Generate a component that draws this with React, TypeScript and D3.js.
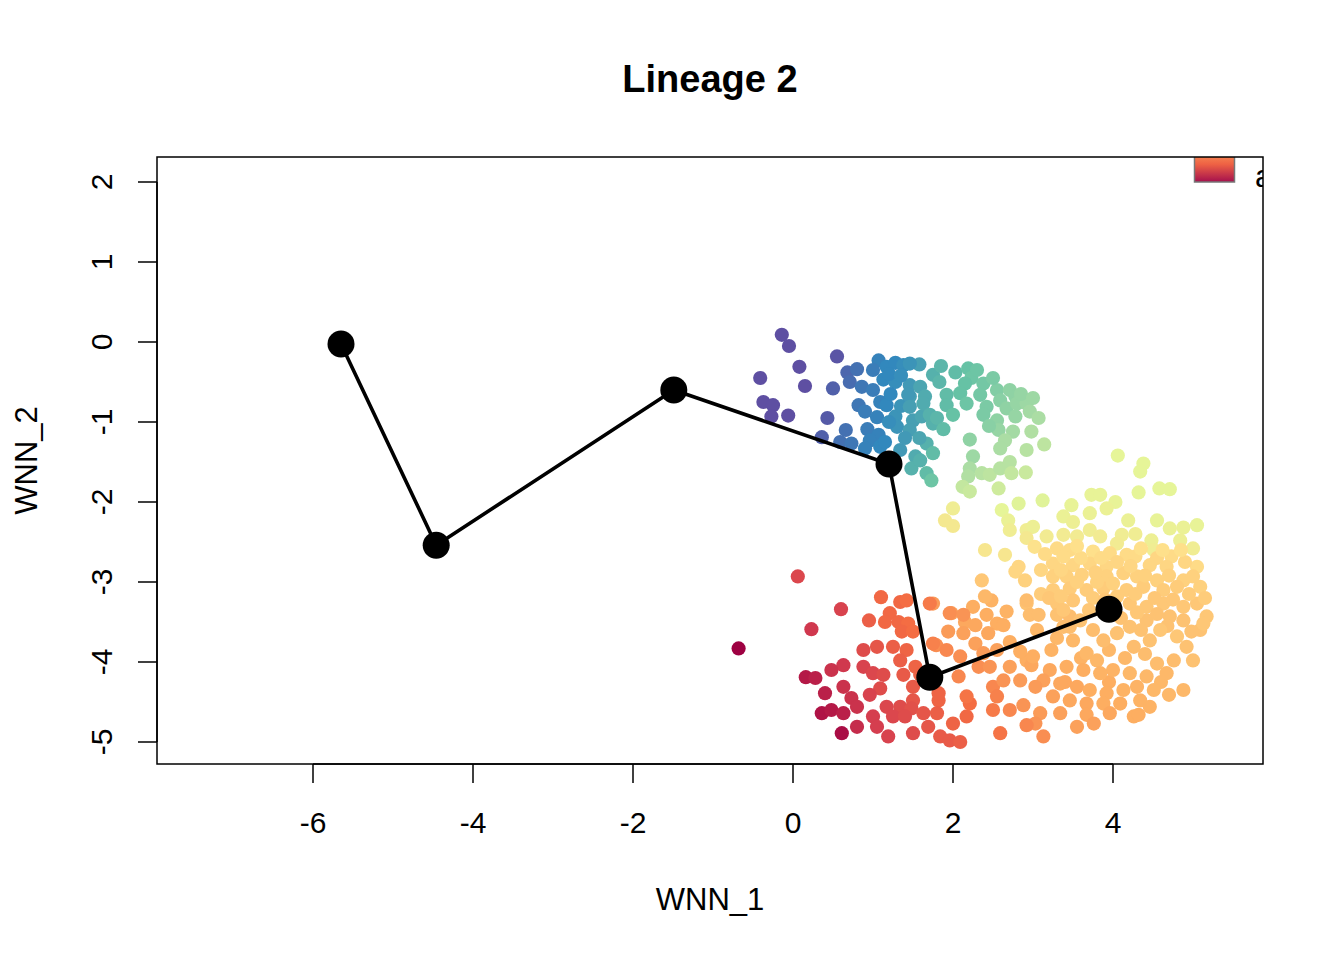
import { useEffect, useRef } from 'react';
import * as d3 from 'd3';

// Cells as [WNN_1, WNN_2, colour position on the Spectral ramp (0 = dark red, 9 = purple)]
type Cell = [number, number, number];

// Upper arc: purple / blue / teal / green cells
const upperCells: Cell[] = [
  [-0.14, 0.09, 9], [-0.05, -0.05, 9], [0.55, -0.18, 8.9], [0.08, -0.31, 9], [-0.41, -0.45, 9],
  [0.15, -0.55, 9], [0.5, -0.58, 8.7], [-0.37, -0.75, 9], [-0.25, -0.79, 9], [-0.27, -0.93, 9],
  [-0.06, -0.92, 9], [0.43, -0.95, 8.8], [0.36, -1.19, 8.7],
  [0.68, -0.38, 8.6], [0.8, -0.34, 8.4], [0.71, -0.5, 8.5], [0.86, -0.56, 8.3], [1.07, -0.23, 8.1],
  [1.17, -0.31, 8.0], [1.28, -0.26, 8.0], [1.38, -0.29, 7.9], [1.13, -0.47, 8.0], [1.28, -0.5, 7.9],
  [1.58, -0.28, 7.6], [1.46, -0.54, 7.7], [1.59, -0.56, 7.5], [0.82, -0.79, 8.3], [0.9, -0.87, 8.2],
  [1.09, -0.75, 8.1], [1.17, -0.79, 8.0], [1.05, -0.94, 8.1], [1.28, -0.93, 7.8], [1.46, -0.68, 7.6],
  [1.65, -0.68, 7.4], [1.5, -0.98, 7.6], [1.61, -0.93, 7.5], [1.3, -1.06, 7.8], [1.46, -1.1, 7.6],
  [0.93, -1.09, 8.2], [1.07, -1.16, 8.1], [0.66, -1.1, 8.4], [0.59, -1.25, 8.4], [0.73, -1.27, 8.3],
  [0.96, -1.23, 8.1], [0.9, -1.33, 8.1], [1.09, -1.31, 8.0], [1.34, -1.35, 7.7], [1.75, -0.41, 7.3],
  [1.75, -1.02, 7.3], [1.67, -1.27, 7.3], [1.53, -1.43, 7.4],
  [1.0, -0.35, 8.2], [1.2, -0.4, 8.0], [1.35, -0.42, 7.9], [1.0, -0.6, 8.2], [1.22, -0.65, 8.0],
  [1.35, -0.8, 7.8], [1.2, -1.0, 7.9], [1.15, -1.25, 8.0], [1.4, -1.2, 7.7], [1.58, -1.2, 7.5],
  [1.83, -0.5, 7.2], [2.03, -0.38, 7.1], [2.19, -0.33, 7.0], [2.23, -0.45, 6.9], [2.15, -0.52, 7.0],
  [2.38, -0.52, 6.8], [2.55, -0.6, 6.6], [2.71, -0.6, 6.4], [2.78, -0.68, 6.4], [1.92, -0.66, 7.1],
  [2.09, -0.64, 7.0], [2.17, -0.77, 6.9], [2.34, -0.66, 6.8], [2.42, -0.81, 6.7], [1.92, -0.79, 7.1],
  [2.0, -0.91, 7.0], [2.38, -0.91, 6.7], [2.59, -0.73, 6.5], [2.67, -0.83, 6.4], [2.8, -0.77, 6.3],
  [2.92, -0.77, 6.2], [2.96, -0.87, 6.1], [3.07, -0.95, 6.0], [2.78, -0.93, 6.3], [2.55, -0.98, 6.4],
  [2.57, -1.1, 6.3], [2.75, -1.12, 6.1], [2.98, -1.12, 5.9], [2.65, -1.23, 6.0], [2.59, -1.33, 6.0],
  [2.92, -1.35, 5.8], [3.14, -1.28, 5.7], [2.21, -1.22, 6.4], [2.25, -1.43, 6.2], [2.21, -1.58, 6.0],
  [2.19, -1.68, 5.9], [2.36, -1.64, 5.8], [2.46, -1.66, 5.7], [2.59, -1.58, 5.8], [2.71, -1.5, 5.8],
  [2.73, -1.64, 5.6], [2.91, -1.63, 5.5], [2.12, -1.81, 5.6], [2.21, -1.87, 5.5], [2.57, -1.83, 5.4],
  [1.85, -0.3, 7.2], [2.3, -0.35, 6.9], [2.5, -0.45, 6.7], [2.85, -0.65, 6.3], [3.0, -0.7, 6.2],
  [2.45, -1.05, 6.5],
  [1.46, -0.27, 7.8], [1.44, -0.66, 7.7], [1.46, -0.81, 7.6], [1.63, -0.77, 7.4], [1.71, -0.91, 7.3],
  [1.8, -0.95, 7.2], [1.88, -1.09, 7.1], [1.75, -1.39, 7.1], [1.67, -1.64, 7.1], [1.73, -1.73, 6.9],
  [1.48, -1.58, 7.3], [1.59, -1.48, 7.3],
];

// Right blob: yellow-green band, pale orange mass, orange underside
const rightCells: Cell[] = [
  [4.06, -1.42, 5.0], [4.38, -1.52, 5.0], [4.34, -1.62, 5.0], [4.58, -1.83, 5.0], [4.71, -1.84, 5.0],
  [4.32, -1.88, 5.0], [3.73, -1.91, 4.9], [3.84, -1.91, 4.9], [3.12, -1.98, 5.1], [2.82, -2.02, 5.1],
  [3.48, -2.04, 4.9], [4.03, -2.0, 4.9], [2.0, -2.08, 4.6], [2.61, -2.1, 5.0], [3.38, -2.18, 4.8],
  [3.71, -2.14, 4.8], [3.92, -2.08, 4.8], [1.9, -2.23, 4.4], [2.0, -2.3, 4.4], [2.69, -2.23, 4.8],
  [3.5, -2.25, 4.7], [4.19, -2.23, 4.8], [4.55, -2.23, 4.9], [5.05, -2.29, 4.9], [2.71, -2.35, 4.6],
  [2.92, -2.35, 4.6], [3.0, -2.31, 4.7], [3.71, -2.35, 4.6], [4.71, -2.33, 4.8], [4.88, -2.32, 4.8],
  [4.11, -2.41, 4.6], [4.28, -2.4, 4.6], [4.48, -2.48, 4.7], [2.92, -2.45, 4.4], [3.17, -2.43, 4.5],
  [3.38, -2.41, 4.5], [3.55, -2.43, 4.5], [3.84, -2.43, 4.5], [4.05, -2.52, 4.5], [4.84, -2.48, 4.7],
  [5.0, -2.58, 4.6], [4.51, -2.6, 4.6], [2.4, -2.6, 4.3], [2.65, -2.66, 4.3], [3.02, -2.56, 4.1],
  [3.3, -2.58, 3.9], [3.46, -2.6, 3.9], [3.75, -2.62, 4.0], [3.96, -2.64, 3.9], [4.17, -2.66, 3.9],
  [4.28, -2.68, 3.9], [4.73, -2.68, 3.9], [5.05, -2.81, 3.9], [3.25, -2.77, 3.8], [3.5, -2.79, 3.8],
  [3.71, -2.77, 3.8], [3.92, -2.81, 3.8], [4.46, -2.79, 3.8], [4.67, -2.81, 3.8], [2.82, -2.81, 3.8],
  [2.78, -2.87, 3.8], [2.9, -2.98, 3.7], [3.25, -2.93, 3.7], [3.42, -2.93, 3.7], [3.61, -2.91, 3.7],
  [3.92, -2.93, 3.7], [4.13, -2.89, 3.7], [4.3, -2.93, 3.7], [4.55, -2.98, 3.7], [4.88, -2.98, 3.7],
  [5.09, -3.06, 3.7], [2.36, -2.98, 3.5], [3.25, -3.1, 3.6], [3.46, -3.08, 3.6], [3.67, -3.1, 3.6],
  [3.88, -3.08, 3.6], [4.17, -3.1, 3.6], [4.38, -3.06, 3.6], [4.63, -3.1, 3.6], [4.8, -3.06, 3.6],
  [3.3, -3.27, 3.5], [3.5, -3.23, 3.5], [4.21, -3.27, 3.5], [4.42, -3.31, 3.5], [4.63, -3.27, 3.5],
  [4.88, -3.31, 3.5], [5.05, -3.27, 3.5], [2.92, -3.27, 3.4], [3.3, -3.41, 3.4], [5.17, -3.43, 3.5],
  [4.42, -3.48, 3.4], [4.71, -3.43, 3.4], [4.88, -3.48, 3.4], [5.09, -3.6, 3.4], [2.96, -3.41, 3.3],
  [3.07, -3.41, 3.3], [3.46, -3.43, 3.3], [3.46, -3.56, 3.3],
  [3.38, -2.68, 3.9], [3.6, -2.7, 3.9], [4.05, -2.75, 3.8], [4.55, -2.7, 3.8], [4.9, -2.75, 3.8],
  [3.1, -2.85, 3.8], [3.8, -3.0, 3.7], [4.0, -3.02, 3.7], [4.7, -2.92, 3.7], [3.1, -3.15, 3.6],
  [3.75, -3.2, 3.6], [4.05, -3.18, 3.6], [4.95, -3.15, 3.6], [3.2, -3.2, 3.5], [4.3, -3.38, 3.5],
  [4.55, -3.4, 3.4], [3.7, -3.35, 3.5],
  [3.15, -2.65, 3.9], [3.55, -2.55, 4.0], [3.85, -2.7, 3.9], [4.35, -2.58, 4.0], [4.62, -2.6, 4.0],
  [4.85, -2.6, 4.0], [3.35, -2.85, 3.8], [3.78, -2.88, 3.7], [4.22, -2.8, 3.8], [4.4, -2.92, 3.7],
  [5.0, -2.93, 3.7], [3.55, -3.0, 3.7], [3.35, -3.18, 3.6], [3.9, -3.22, 3.5], [4.28, -3.15, 3.6],
  [4.52, -3.2, 3.5], [4.75, -3.22, 3.5], [5.15, -3.2, 3.6], [4.1, -3.45, 3.4], [4.35, -3.6, 3.4],
  [4.68, -3.55, 3.4], [4.98, -3.62, 3.4], [3.75, -3.6, 3.3], [3.95, -3.85, 3.2], [4.15, -3.95, 3.2],
  [4.4, -3.9, 3.3], [3.3, -3.7, 3.2], [3.05, -3.6, 3.2], [3.6, -3.95, 3.1], [3.4, -4.25, 2.9],
  [3.95, -4.25, 3.0], [4.6, -4.25, 3.2],
  [1.75, -3.27, 2.7], [1.98, -3.39, 2.8], [2.25, -3.31, 3.0], [2.48, -3.23, 3.1], [2.67, -3.37, 3.1],
  [2.42, -3.41, 3.0], [2.15, -3.5, 2.9], [2.28, -3.54, 2.9], [2.55, -3.52, 3.0], [2.63, -3.54, 3.0],
  [1.94, -3.62, 2.7], [2.13, -3.64, 2.8], [2.44, -3.64, 2.9], [1.79, -3.79, 2.5], [2.28, -3.77, 2.8],
  [3.38, -3.35, 3.5], [2.92, -3.23, 3.3], [3.59, -3.48, 3.4], [3.38, -3.56, 3.3], [3.5, -3.73, 3.2],
  [3.23, -3.85, 3.1], [2.92, -3.98, 3.0], [2.98, -4.04, 2.9], [3.67, -3.89, 3.2], [3.8, -3.98, 3.2],
  [3.88, -3.73, 3.3], [4.05, -3.64, 3.4], [4.21, -3.56, 3.4], [4.26, -3.81, 3.3], [4.46, -3.73, 3.4],
  [4.59, -3.6, 3.5], [4.8, -3.68, 3.5], [4.92, -3.81, 3.4], [5.0, -3.98, 3.4], [5.13, -3.52, 3.5],
  [4.76, -3.98, 3.3], [4.55, -4.02, 3.3], [4.67, -4.14, 3.2], [4.42, -4.18, 3.2], [4.21, -4.14, 3.2],
  [4.0, -4.1, 3.1], [3.84, -4.14, 3.1], [3.63, -4.1, 3.0], [3.42, -4.06, 3.0], [3.21, -4.1, 2.9],
  [3.13, -4.23, 2.8], [3.34, -4.27, 2.9], [3.55, -4.31, 2.9], [3.71, -4.35, 3.0], [3.92, -4.39, 3.0],
  [4.13, -4.35, 3.1], [4.3, -4.31, 3.1], [4.51, -4.35, 3.2], [4.7, -4.41, 3.2], [4.88, -4.35, 3.2],
  [3.25, -4.43, 2.8], [3.46, -4.48, 2.9], [3.67, -4.52, 2.9], [3.88, -4.52, 3.0], [4.09, -4.52, 3.0],
  [4.34, -4.48, 3.1], [4.46, -4.56, 3.1], [3.09, -4.64, 2.7], [3.34, -4.64, 2.8], [3.67, -4.66, 2.9],
  [3.96, -4.64, 2.9], [4.26, -4.68, 3.0], [4.32, -4.66, 3.0], [3.03, -4.77, 2.6], [3.55, -4.81, 2.8],
  [3.76, -4.77, 2.8], [2.88, -4.54, 2.6], [3.13, -4.93, 2.5],
];

// Lower-left blob: red / crimson cells
const lowerCells: Cell[] = [
  [0.06, -2.93, 1.2], [0.6, -3.34, 1.1], [0.23, -3.59, 0.9], [-0.68, -3.83, 0.0], [1.1, -3.19, 1.9],
  [1.34, -3.25, 1.9], [1.42, -3.23, 2.0], [1.71, -3.27, 2.2], [0.95, -3.48, 1.7], [1.21, -3.39, 1.9],
  [1.15, -3.5, 1.9], [1.32, -3.5, 1.9], [1.44, -3.52, 2.0], [1.36, -3.62, 1.9], [1.5, -3.62, 2.0],
  [1.96, -3.39, 2.5], [2.13, -3.41, 2.6], [2.4, -3.18, 3.2], [1.75, -3.77, 2.3], [1.92, -3.85, 2.4],
  [2.09, -3.93, 2.5], [2.38, -3.89, 2.7], [2.55, -3.85, 2.8], [2.71, -3.75, 3.0], [2.84, -3.87, 3.0],
  [3.0, -3.93, 3.0], [0.88, -3.85, 1.3], [1.05, -3.81, 1.5], [1.25, -3.81, 1.7], [1.42, -3.85, 1.8],
  [1.34, -3.98, 1.7], [1.53, -4.06, 1.8], [0.88, -4.06, 1.1], [1.0, -4.14, 1.2], [1.13, -4.16, 1.3],
  [1.38, -4.16, 1.6], [0.63, -4.04, 0.9], [0.48, -4.1, 0.8], [0.16, -4.19, 0.4], [0.28, -4.2, 0.5],
  [0.63, -4.31, 0.8], [0.4, -4.39, 0.5], [1.09, -4.33, 1.3], [0.96, -4.41, 1.1], [1.5, -4.31, 1.6],
  [2.07, -4.18, 2.4], [0.73, -4.45, 0.8], [0.8, -4.56, 0.8], [0.36, -4.64, 0.3], [0.48, -4.6, 0.4],
  [0.63, -4.64, 0.5], [1.0, -4.68, 1.0], [1.17, -4.56, 1.2], [1.34, -4.56, 1.3], [1.5, -4.48, 1.5],
  [1.48, -4.58, 1.4], [1.63, -4.64, 1.5], [1.82, -4.48, 1.8], [1.8, -4.64, 1.7], [1.25, -4.68, 1.2],
  [1.4, -4.68, 1.3], [0.8, -4.81, 0.7], [0.61, -4.89, 0.2], [1.05, -4.81, 1.0], [1.19, -4.93, 1.1],
  [1.5, -4.89, 1.3], [1.69, -4.81, 1.5], [1.84, -4.93, 1.6], [1.96, -4.98, 1.6], [2.09, -5.0, 1.7],
  [2.0, -4.77, 1.8], [2.17, -4.68, 1.9], [2.21, -4.52, 2.0], [2.17, -4.43, 2.1], [2.5, -4.31, 2.4],
  [2.55, -4.43, 2.3], [2.5, -4.6, 2.2], [2.71, -4.6, 2.4], [2.59, -4.89, 2.1], [2.92, -4.79, 2.4],
  [2.32, -4.06, 2.5], [2.46, -4.06, 2.6], [2.71, -4.06, 2.8], [2.63, -4.23, 2.6], [2.84, -4.23, 2.7],
  [3.03, -4.31, 2.7], [1.82, -4.39, 1.8], [1.59, -4.16, 1.8],
];

// Lineage 2 principal curve nodes
const lineageX = [-5.65, -4.46, -1.49, 1.2, 1.71, 3.95];
const lineageY = [-0.025, -2.54, -0.6, -1.525, -4.19, -3.34];

// Axis ticks
const xTicks = [-6, -4, -2, 0, 2, 4];
const yTicks = [-5, -4, -3, -2, -1, 0, 1, 2];

// RColorBrewer Spectral without its middle colour
const spectral = ['#9e0142', '#d53e4f', '#f46d43', '#fdae61', '#fee08b', '#e6f598', '#abdda4', '#66c2a5', '#3288bd', '#5e4fa2'];

const FONT = '"Liberation Sans", Arial, Helvetica, sans-serif';

export default function App() {
  const svgRef = useRef<SVGSVGElement | null>(null);

  useEffect(() => {
    if (!svgRef.current) return;
    const svg = d3.select(svgRef.current);
    svg.selectAll('*').remove();

    // plot region 157..1263 x 157..764
    const x = d3.scaleLinear().domain([-7.95, 5.875]).range([157, 1263]);
    const y = d3.scaleLinear().domain([-5.275, 2.3125]).range([764, 157]);
    const colour = d3.scaleLinear<string>().domain(d3.range(spectral.length)).range(spectral).interpolate(d3.interpolateRgb);

    const [x0, x1] = x.range();
    const [y0, y1] = y.range();

    const defs = svg.append('defs');
    defs.append('clipPath').attr('id', 'plot-clip')
      .append('rect').attr('x', x0).attr('y', y1).attr('width', x1 - x0).attr('height', y0 - y1);
    const grad = defs.append('linearGradient').attr('id', 'legend-grad')
      .attr('x1', 0).attr('y1', 0).attr('x2', 0).attr('y2', 1);
    grad.append('stop').attr('offset', '0%').attr('stop-color', '#fb9a58');
    grad.append('stop').attr('offset', '45%').attr('stop-color', '#ee6144');
    grad.append('stop').attr('offset', '100%').attr('stop-color', '#a5104d');

    // cells
    const cells = [...upperCells, ...rightCells, ...lowerCells];
    svg.append('g').selectAll('circle').data(cells).join('circle')
      .attr('cx', d => x(d[0]))
      .attr('cy', d => y(d[1]))
      .attr('r', 7.1)
      .attr('fill', d => colour(d[2]));

    // lineage curve
    const nodes = lineageX.map((v, i) => [v, lineageY[i]] as [number, number]);
    const line = d3.line<[number, number]>().x(d => x(d[0])).y(d => y(d[1]));
    svg.append('path').datum(nodes)
      .attr('d', line)
      .attr('fill', 'none')
      .attr('stroke', '#000')
      .attr('stroke-width', 3.6)
      .attr('stroke-linejoin', 'round');
    svg.append('g').selectAll('circle').data(nodes).join('circle')
      .attr('cx', d => x(d[0]))
      .attr('cy', d => y(d[1]))
      .attr('r', 13.5)
      .attr('fill', '#000');

    // legend, cut by the plot region
    const legend = svg.append('g').attr('clip-path', 'url(#plot-clip)');
    legend.append('rect')
      .attr('x', 1194.5).attr('y', 150).attr('width', 40).attr('height', 32)
      .attr('fill', 'url(#legend-grad)')
      .attr('stroke', '#777').attr('stroke-width', 1.5);
    legend.append('text')
      .attr('x', 1255).attr('y', 187)
      .attr('font-family', FONT).attr('font-size', 31)
      .text('a');

    // box
    svg.append('rect')
      .attr('x', x0).attr('y', y1).attr('width', x1 - x0).attr('height', y0 - y1)
      .attr('fill', 'none').attr('stroke', '#000').attr('stroke-width', 1.5);

    // x axis
    const xAxis = svg.append('g');
    xAxis.append('line')
      .attr('x1', x(xTicks[0])).attr('x2', x(xTicks[xTicks.length - 1]))
      .attr('y1', y0).attr('y2', y0).attr('stroke', '#000').attr('stroke-width', 1.5);
    xAxis.selectAll('line.tick').data(xTicks).join('line').attr('class', 'tick')
      .attr('x1', d => x(d)).attr('x2', d => x(d))
      .attr('y1', y0).attr('y2', y0 + 19)
      .attr('stroke', '#000').attr('stroke-width', 1.5);
    xAxis.selectAll('text').data(xTicks).join('text')
      .attr('x', d => x(d)).attr('y', 833)
      .attr('text-anchor', 'middle')
      .attr('font-family', FONT).attr('font-size', 30)
      .text(d => String(d));

    // y axis
    const yAxis = svg.append('g');
    yAxis.append('line')
      .attr('x1', x0).attr('x2', x0)
      .attr('y1', y(yTicks[0])).attr('y2', y(yTicks[yTicks.length - 1]))
      .attr('stroke', '#000').attr('stroke-width', 1.5);
    yAxis.selectAll('line.tick').data(yTicks).join('line').attr('class', 'tick')
      .attr('x1', x0).attr('x2', x0 - 19)
      .attr('y1', d => y(d)).attr('y2', d => y(d))
      .attr('stroke', '#000').attr('stroke-width', 1.5);
    yAxis.selectAll('text').data(yTicks).join('text')
      .attr('transform', d => `translate(112,${y(d)}) rotate(-90)`)
      .attr('text-anchor', 'middle')
      .attr('font-family', FONT).attr('font-size', 30)
      .text(d => String(d));

    // titles
    svg.append('text')
      .attr('x', (x0 + x1) / 2).attr('y', 92)
      .attr('text-anchor', 'middle')
      .attr('font-family', FONT).attr('font-size', 38).attr('font-weight', 'bold')
      .text('Lineage 2');
    svg.append('text')
      .attr('x', (x0 + x1) / 2).attr('y', 910)
      .attr('text-anchor', 'middle')
      .attr('font-family', FONT).attr('font-size', 31)
      .text('WNN_1');
    svg.append('text')
      .attr('transform', `translate(37,${(y0 + y1) / 2}) rotate(-90)`)
      .attr('text-anchor', 'middle')
      .attr('font-family', FONT).attr('font-size', 31)
      .text('WNN_2');

    return () => { svg.selectAll('*').remove(); };
  }, []);

  return (
    <svg
      ref={svgRef}
      width={1344}
      height={960}
      style={{ position: 'absolute', left: 0, top: 0, background: '#fff' }}
    />
  );
}
